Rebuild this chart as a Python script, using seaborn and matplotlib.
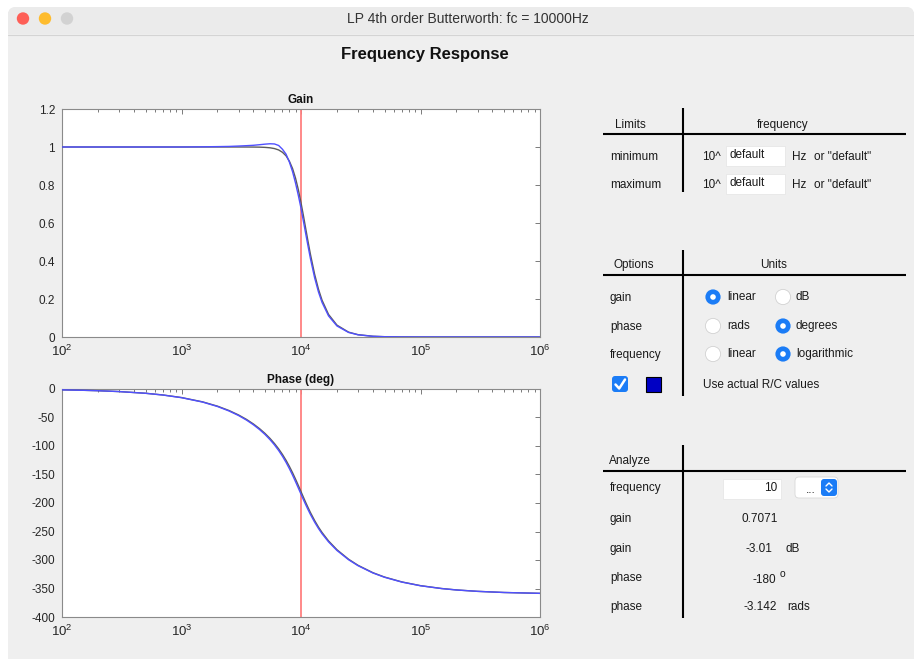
import numpy as np
import pandas as pd
import seaborn as sns
import matplotlib
matplotlib.use("Agg")
import matplotlib.pyplot as plt
from matplotlib.patches import Rectangle, Circle, FancyBboxPatch
from matplotlib.ticker import FixedLocator, FuncFormatter, LogLocator, NullFormatter

# ---------------------------------------------------------------- data
cutoff_hz = 10000

freq_hz = [100, 150, 200, 300, 500, 700, 1000, 1500, 2000, 2500, 3000, 3500,
           4000, 4500, 5000, 5500, 6000, 6500, 7000, 7500, 8000, 8500, 9000,
           9500, 10000, 10500, 11000, 11500, 12000, 13000, 14000, 15000,
           17000, 20000, 25000, 30000, 40000, 50000, 70000, 100000, 150000,
           200000, 300000, 500000, 1000000]

gain_ideal = [1.0, 1.0, 1.0, 1.0, 1.0, 1.0, 1.0, 1.0, 1.0, 1.0, 1.0, 0.9999,
              0.9997, 0.9992, 0.998, 0.9958, 0.9917, 0.9845, 0.972, 0.9535,
              0.925, 0.8865, 0.836, 0.7754, 0.7071, 0.6355, 0.564, 0.4964,
              0.4344, 0.3305, 0.2519, 0.1937, 0.1189, 0.0624, 0.0256, 0.0123,
              0.0039, 0.0016, 0.0004, 0.0001, 0.0, 0.0, 0.0, 0.0, 0.0]

gain_actual = [1.0, 1.0, 1.0, 1.0, 1.0, 1.0, 1.0, 1.001, 1.002, 1.003, 1.005,
               1.007, 1.009, 1.012, 1.015, 1.017, 1.016, 1.008, 0.988, 0.962,
               0.92, 0.87, 0.81, 0.745, 0.678, 0.606, 0.537, 0.472, 0.412,
               0.312, 0.237, 0.182, 0.111, 0.058, 0.024, 0.0115, 0.0036,
               0.0015, 0.0004, 0.0001, 0.0, 0.0, 0.0, 0.0, 0.0]

phase_ideal = [-1.5, -2.25, -3.0, -4.5, -7.49, -10.49, -15.0, -22.53, -30.1,
               -37.77, -45.5, -53.36, -61.4, -69.56, -77.96, -86.65, -95.7,
               -105.06, -114.9, -125.17, -135.9, -146.9, -158.1, -169.2,
               -180.0, -190.3, -199.9, -208.7, -216.8, -230.7, -242.2,
               -251.7, -266.5, -282.0, -298.6, -309.3, -322.3, -329.9,
               -338.5, -345.0, -350.0, -352.5, -355.0, -357.0, -358.5]

phase_actual = [-1.5, -2.25, -3.0, -4.5, -7.5, -10.6, -15.2, -22.9, -30.7,
                -38.6, -46.5, -54.6, -62.8, -71.2, -79.8, -88.8, -98.1,
                -107.9, -118.1, -128.8, -139.9, -151.2, -162.6, -173.8,
                -184.5, -194.6, -203.9, -212.4, -220.2, -233.6, -244.7,
                -253.9, -268.2, -283.3, -299.5, -310.0, -322.8, -330.3,
                -338.8, -345.2, -350.1, -352.6, -355.0, -357.0, -358.5]

model_names = ["ideal", "actual R/C"]
model_colors = {"ideal": "#5c5c5c", "actual R/C": "#5050ff"}

gain_ticks = [0, 0.2, 0.4, 0.6, 0.8, 1.0, 1.2]
phase_ticks = [0, -50, -100, -150, -200, -250, -300, -350, -400]
freq_ticks = [1e2, 1e3, 1e4, 1e5, 1e6]

analyze_freq = "10"
analyze_gain = "0.7071"
analyze_gain_db = "-3.01"
analyze_phase_deg = "-180"
analyze_phase_rad = "-3.142"

response = pd.DataFrame({
    "freq": freq_hz * 2,
    "gain": gain_ideal + gain_actual,
    "phase": phase_ideal + phase_actual,
    "model": [model_names[0]] * len(freq_hz) + [model_names[1]] * len(freq_hz),
})

# ---------------------------------------------------------------- style
sns.set_theme(style="white")
plt.rcParams["font.family"] = ["Liberation Sans", "DejaVu Sans"]
plt.rcParams["mathtext.fontset"] = "custom"
plt.rcParams["mathtext.rm"] = "Liberation Sans"
plt.rcParams["mathtext.default"] = "rm"

W, H = 914, 659
fig = plt.figure(figsize=(W / 100, H / 100), dpi=100, facecolor="white")

# full-figure canvas in pixel units for the window chrome and control panel
bg = fig.add_axes([0, 0, 1, 1], zorder=0)
bg.set_xlim(0, W)
bg.set_ylim(H, 0)
bg.axis("off")

bg.add_patch(FancyBboxPatch((8, 7), W - 8, H, boxstyle="round,pad=0,rounding_size=8",
                            facecolor="#efefef", edgecolor="none"))
bg.add_patch(Rectangle((8, 12), W - 8, 22, facecolor="#ebebeb", edgecolor="none"))
bg.add_patch(FancyBboxPatch((8, 7), W - 8, 20, boxstyle="round,pad=0,rounding_size=8",
                            facecolor="#ebebeb", edgecolor="none"))
bg.plot([8, W], [34.5, 34.5], color="#d4d4d4", lw=0.8)
for cx, col in [(23, "#fe5f57"), (45, "#febc2e"), (67, "#d2d2d2")]:
    bg.add_patch(Circle((cx, 18.5), 6.2, facecolor=col, edgecolor="none"))
bg.text(468, 19, "LP 4th order Butterworth: fc = 10000Hz", ha="center", va="center",
        fontsize=10, color="#333333")
bg.text(425, 54, "Frequency Response", ha="center", va="center",
        fontsize=12, fontweight="bold", color="#111111")

# ---------------------------------------------------------------- plots
def px_rect(x0, y0, x1, y1):
    return [x0 / W, 1 - y1 / H, (x1 - x0) / W, (y1 - y0) / H]

ax_gain = fig.add_axes(px_rect(62, 109, 540, 337), zorder=2)
ax_phase = fig.add_axes(px_rect(62, 389, 540, 617), zorder=2)

for ax, col, ticks, lim, title in [
    (ax_gain, "gain", gain_ticks, (0, 1.2), "Gain"),
    (ax_phase, "phase", phase_ticks, (-400, 0), "Phase (deg)"),
]:
    ax.set_facecolor("white")
    ax.axvline(cutoff_hz, color="#ff8080", lw=1.3, zorder=1)
    sns.lineplot(data=response, x="freq", y=col, hue="model", hue_order=model_names,
                 palette=model_colors, estimator=None, sort=True, lw=1.0,
                 legend=False, ax=ax, zorder=3)
    ax.set_xscale("log")
    ax.set_xlim(1e2, 1e6)
    ax.set_ylim(*lim)
    ax.yaxis.set_major_locator(FixedLocator(ticks))
    ax.yaxis.set_major_formatter(FuncFormatter(lambda v, p: f"{v:g}"))
    ax.xaxis.set_major_locator(FixedLocator(freq_ticks))
    ax.xaxis.set_major_formatter(
        FuncFormatter(lambda v, p: f"$10^{{{int(round(np.log10(v)))}}}$"))
    ax.xaxis.set_minor_locator(LogLocator(base=10, subs=np.arange(2, 10), numticks=20))
    ax.xaxis.set_minor_formatter(NullFormatter())
    ax.tick_params(which="both", direction="in", top=True, right=True,
                   color="#7a7a7a", width=0.7)
    ax.tick_params(which="major", length=3.5, labelcolor="#262626", pad=4)
    ax.tick_params(axis="y", which="major", labelsize=8.5, pad=5)
    ax.tick_params(axis="x", which="major", labelsize=9.5, pad=5)
    ax.tick_params(which="minor", length=2.0)
    ax.set_xlabel("")
    ax.set_ylabel("")
    for sp in ax.spines.values():
        sp.set_color("#8a8a8a")
        sp.set_linewidth(0.8)
    ax.set_title(title, fontsize=8.5, fontweight="bold", color="#111111", pad=4)

# ---------------------------------------------------------------- control panel
FS = 8.5
TXT = "#1a1a1a"
BLUE = "#1b7cf6"

def panel_frame(y_top, y_head, y_bottom):
    bg.plot([683, 683], [y_top, y_bottom], color="black", lw=1.5, solid_capstyle="butt")
    bg.plot([603, 906], [y_head, y_head], color="black", lw=1.5, solid_capstyle="butt")

def label(x, y, s, ha="left", **kw):
    bg.text(x, y, s, ha=ha, va="center", fontsize=kw.pop("fontsize", FS),
            color=kw.pop("color", TXT), **kw)

def text_box(x, y, w, h):
    bg.add_patch(Rectangle((x, y), w, h, facecolor="white", edgecolor="#e4e4e4", lw=0.5))

def radio(x, y, on):
    if on:
        bg.add_patch(Circle((x, y), 7.6, facecolor=BLUE, edgecolor="none"))
        bg.add_patch(Circle((x, y), 2.8, facecolor="white", edgecolor="none"))
    else:
        bg.add_patch(Circle((x, y), 7.6, facecolor="white", edgecolor="#d2d2d2", lw=0.6))

# limits
panel_frame(108, 134, 192)
label(630, 125, "Limits", ha="center")
label(783, 125, "frequency", ha="center")
for y, name in [(157, "minimum"), (185, "maximum")]:
    label(610, y, name)
    label(721, y, "10^", ha="right")
    text_box(726, y - 11, 59, 20)
    label(729, y - 2, "default")
    label(792, y, "Hz")
    label(814, y, "or \"default\"")

# options
panel_frame(250, 275, 396)
label(634, 265, "Options", ha="center")
label(774, 265, "Units", ha="center")
rows = [(298, "gain", "linear", "dB", 0),
        (327, "phase", "rads", "degrees", 1),
        (355, "frequency", "linear", "logarithmic", 1)]
for y, name, a, b, sel in rows:
    label(610, y, name)
    radio(713, y - 1, sel == 0)
    label(727, y - 1, a)
    radio(783, y - 1, sel == 1)
    label(796, y - 1, b)
bg.add_patch(FancyBboxPatch((612, 376), 16, 16, boxstyle="round,pad=0,rounding_size=3",
                            facecolor=BLUE, edgecolor="none"))
bg.plot([615.5, 619.2, 625], [384.5, 388.5, 379.5], color="white", lw=1.8,
        solid_capstyle="round", solid_joinstyle="round")
bg.add_patch(Rectangle((646, 377), 15, 15, facecolor="#0000c4", edgecolor="black", lw=0.8))
label(703, 385, "Use actual R/C values")

# analyze
panel_frame(445, 471, 618)
label(609, 461, "Analyze")
label(610, 488, "frequency")
text_box(723, 479, 58, 20)
label(777, 488, analyze_freq, ha="right")
bg.add_patch(FancyBboxPatch((795, 477), 43, 21, boxstyle="round,pad=0,rounding_size=4",
                            facecolor="white", edgecolor="#d8d8d8", lw=0.6))
label(811, 490, "...", ha="center")
bg.add_patch(FancyBboxPatch((821, 479), 16, 17, boxstyle="round,pad=0,rounding_size=3",
                            facecolor=BLUE, edgecolor="none"))
bg.plot([826, 829, 832], [486, 483, 486], color="white", lw=1.0)
bg.plot([826, 829, 832], [489, 492, 489], color="white", lw=1.0)

label(610, 519, "gain")
label(741, 519, analyze_gain)
label(610, 549, "gain")
label(772, 549, analyze_gain_db, ha="right")
label(786, 549, "dB")
label(610, 578, "phase")
label(776, 580, analyze_phase_deg, ha="right")
label(780, 574, "o", fontsize=7.5)
label(610, 607, "phase")
label(777, 607, analyze_phase_rad, ha="right")
label(787, 607, "rads")

fig.savefig("out.png", dpi=100, facecolor="white")
